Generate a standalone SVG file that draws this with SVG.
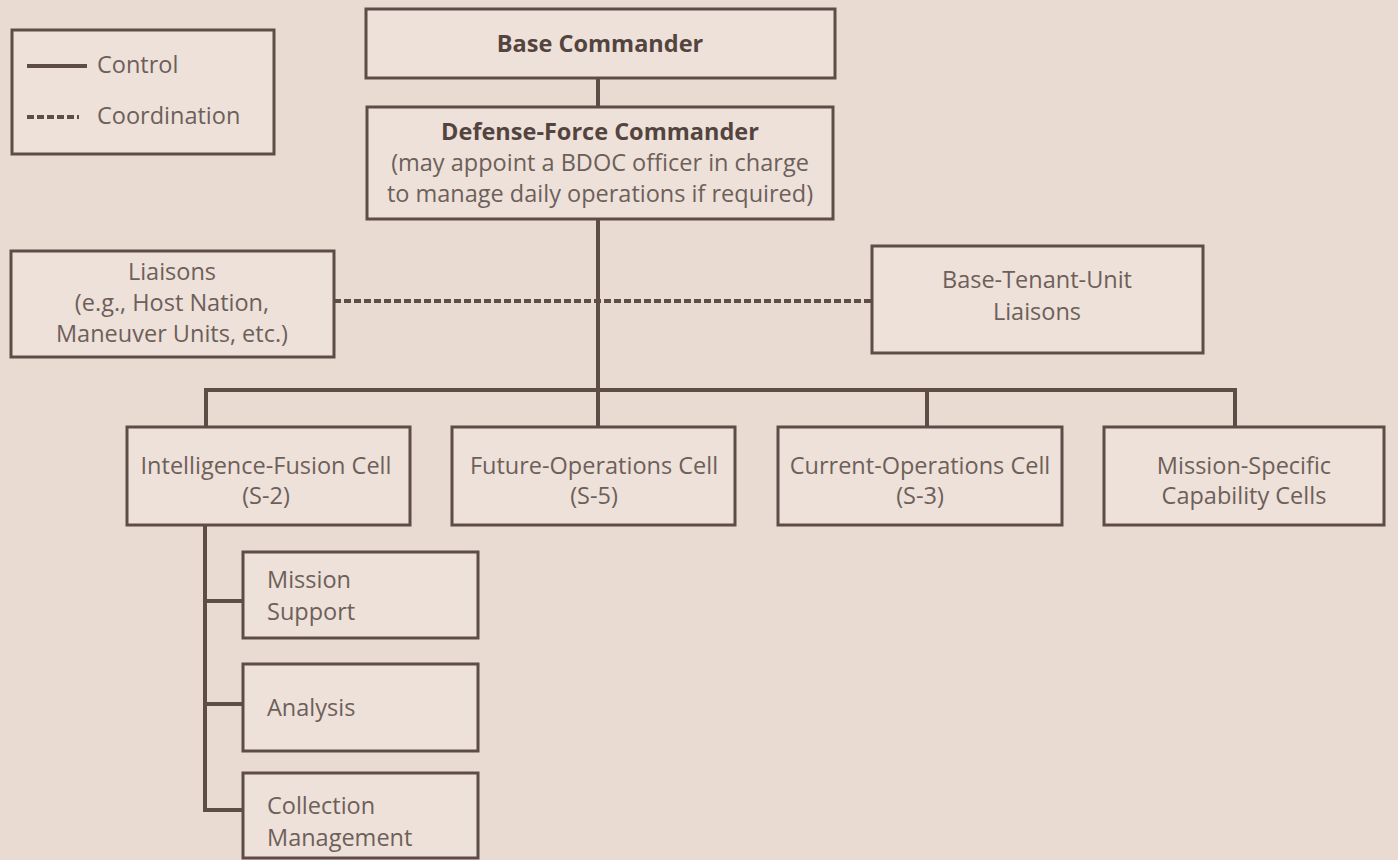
<svg xmlns="http://www.w3.org/2000/svg" width="1398" height="860" viewBox="0 0 1398 860">
<style>
.bx{fill:#ede1d9;stroke:#5e4d47;stroke-width:3}
.t{font-family:"Open Sans","Noto Sans",sans-serif;font-size:23.5px;fill:#6d5f5a;text-anchor:middle}
.l{text-anchor:start}
.b{font-weight:bold;fill:#54443f}
.c{fill:none;stroke:#5e4d47;stroke-width:4}
.d{fill:none;stroke:#5e4d47;stroke-width:4;stroke-dasharray:7 3}
</style>
<rect width="1398" height="860" fill="#e9dbd2"/>
<g id="legend">
<rect class="bx" x="12" y="30" width="262" height="124"/>
<line class="c" x1="27" y1="66" x2="87" y2="66"/>
<text class="t l" x="97" y="73">Control</text>
<line class="d" x1="27" y1="117" x2="79" y2="117" stroke-dasharray="6 3"/>
<text class="t l" x="97" y="124">Coordination</text>
</g>
<g id="connectors">
<line class="c" x1="598" y1="78" x2="598" y2="107"/>
<line class="c" x1="598" y1="219" x2="598" y2="390"/>
<line class="d" x1="334" y1="301" x2="872" y2="301"/>
<path class="c" d="M206 427 V390 H1235 V427"/>
<line class="c" x1="598" y1="390" x2="598" y2="427"/>
<line class="c" x1="927" y1="390" x2="927" y2="427"/>
<path class="c" d="M205 525 V810 H243"/>
<line class="c" x1="205" y1="601" x2="243" y2="601"/>
<line class="c" x1="205" y1="704" x2="243" y2="704"/>
</g>
<g id="base-commander">
<rect class="bx" x="366" y="9" width="469" height="69"/>
<text class="t b" x="600" y="52">Base Commander</text>
</g>
<g id="defense-force-commander">
<rect class="bx" x="367" y="107" width="466" height="112"/>
<text class="t b" x="600" y="140">Defense-Force Commander</text>
<text class="t" x="600" y="171">(may appoint a BDOC officer in charge</text>
<text class="t" x="600" y="202">to manage daily operations if required)</text>
</g>
<g id="liaisons">
<rect class="bx" x="11" y="251" width="323" height="106"/>
<text class="t" x="172" y="280">Liaisons</text>
<text class="t" x="172" y="311">(e.g., Host Nation,</text>
<text class="t" x="172" y="342">Maneuver Units, etc.)</text>
</g>
<g id="base-tenant-unit-liaisons">
<rect class="bx" x="872" y="246" width="331" height="107"/>
<text class="t" x="1037" y="288">Base-Tenant-Unit</text>
<text class="t" x="1037" y="320">Liaisons</text>
</g>
<g id="intelligence-fusion-cell">
<rect class="bx" x="127" y="427" width="283" height="98"/>
<text class="t" x="266" y="474">Intelligence-Fusion Cell</text>
<text class="t" x="266" y="504">(S-2)</text>
</g>
<g id="future-operations-cell">
<rect class="bx" x="452" y="427" width="283" height="98"/>
<text class="t" x="594" y="474">Future-Operations Cell</text>
<text class="t" x="594" y="504">(S-5)</text>
</g>
<g id="current-operations-cell">
<rect class="bx" x="778" y="427" width="284" height="98"/>
<text class="t" x="920" y="474">Current-Operations Cell</text>
<text class="t" x="920" y="504">(S-3)</text>
</g>
<g id="mission-specific-capability-cells">
<rect class="bx" x="1104" y="427" width="280" height="98"/>
<text class="t" x="1244" y="474">Mission-Specific</text>
<text class="t" x="1244" y="504">Capability Cells</text>
</g>
<g id="mission-support">
<rect class="bx" x="243" y="552" width="235" height="86"/>
<text class="t l" x="267" y="588">Mission</text>
<text class="t l" x="267" y="620">Support</text>
</g>
<g id="analysis">
<rect class="bx" x="243" y="664" width="235" height="87"/>
<text class="t l" x="267" y="716">Analysis</text>
</g>
<g id="collection-management">
<rect class="bx" x="243" y="773" width="235" height="85"/>
<text class="t l" x="267" y="814">Collection</text>
<text class="t l" x="267" y="846">Management</text>
</g>
</svg>
